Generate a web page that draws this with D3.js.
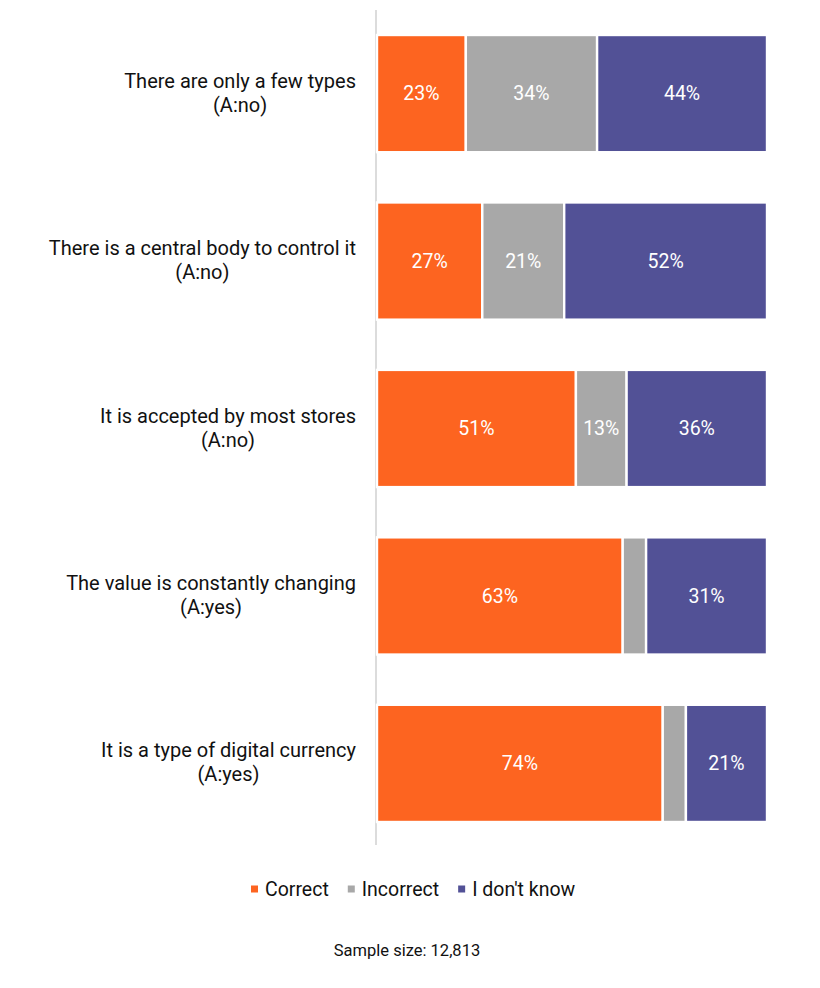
<!DOCTYPE html>
<html><head><meta charset="utf-8">
<script src="https://cdn.jsdelivr.net/npm/d3@7/dist/d3.min.js"></script>
<style>body{margin:0;background:#fff;}svg{display:block;font-family:Roboto,sans-serif;}</style>
</head><body><div id="chart"></div>
<script>
const categories = [
  ["There are only a few types", "(A:no)"],
  ["There is a central body to control it", "(A:no)"],
  ["It is accepted by most stores", "(A:no)"],
  ["The value is constantly changing", "(A:yes)"],
  ["It is a type of digital currency", "(A:yes)"]
];
const seriesNames = ["Correct", "Incorrect", "I don't know"];
const correct   = [23, 27, 51, 63, 74];
const incorrect = [34, 21, 13, 6, 6];
const dontKnow  = [44, 52, 36, 31, 21];
const showIncorrectLabel = [true, true, true, false, false];
const colors = ["#FD6420", "#A8A8A8", "#525196"];
const footnote = "Sample size: 12,813";

const W = 820, H = 988;
const svg = d3.select("#chart").append("svg").attr("width", W).attr("height", H);

const x = d3.scaleLinear().domain([0, 1]).range([377, 767]);
const y = d3.scaleBand().domain(d3.range(categories.length)).range([35, 822]).paddingInner(0.3).paddingOuter(0);

const rows = categories.map((c, i) => {
  const vals = [correct[i], incorrect[i], dontKnow[i]];
  const tot = d3.sum(vals);
  let acc = 0;
  return vals.map((v, k) => {
    const seg = {i, k, v, x0: acc / tot, x1: (acc + v) / tot};
    acc += v;
    return seg;
  });
});

// axis line
svg.append("line").attr("x1", 376).attr("x2", 376).attr("y1", 10).attr("y2", 845)
  .attr("stroke", "#dcdcdc").attr("stroke-width", 2);

const g = svg.append("g");
rows.forEach(row => {
  row.forEach(s => {
    g.append("rect")
      .attr("x", x(s.x0)).attr("width", x(s.x1) - x(s.x0))
      .attr("y", y(s.i)).attr("height", y.bandwidth())
      .attr("fill", colors[s.k]).attr("stroke", "#fff").attr("stroke-width", 2.4);
    const show = s.k !== 1 || showIncorrectLabel[s.i];
    if (show) {
      g.append("text")
        .attr("x", (x(s.x0) + x(s.x1)) / 2)
        .attr("y", y(s.i) + y.bandwidth() / 2)
        .attr("dy", "0.35em").attr("text-anchor", "middle")
        .attr("fill", "#fff").attr("font-size", 19.5)
        .text(s.v + "%");
    }
  });
});

// category labels: block right-aligned, lines centered
const labelRight = 356;
categories.forEach((lines, i) => {
  const cy = y(i) + y.bandwidth() / 2;
  const t = svg.append("g");
  const texts = lines.map((ln, j) => t.append("text")
    .attr("y", cy - 13 + j * 24)
    .attr("dy", "0.35em").attr("text-anchor", "middle")
    .attr("font-size", 20).attr("fill", "#111").text(ln));
  const maxW = d3.max(texts, tx => tx.node().getComputedTextLength());
  texts.forEach(tx => tx.attr("x", labelRight - maxW / 2));
});

// legend
const leg = svg.append("g");
let lx = 0;
seriesNames.forEach((n, k) => {
  const gi = leg.append("g").attr("transform", `translate(${lx},0)`);
  gi.append("rect").attr("x", 0).attr("y", -3.5).attr("width", 7).attr("height", 7).attr("fill", colors[k]);
  const tx = gi.append("text").attr("x", 14).attr("dy", "0.35em").attr("font-size", 19.5).attr("fill", "#111").text(n);
  const w = 14 + tx.node().getComputedTextLength();
  lx += w + 19;
});
leg.attr("transform", `translate(251,889)`);

svg.append("text").attr("x", 407).attr("y", 950).attr("dy", "0.35em").attr("text-anchor", "middle")
  .attr("font-size", 16.5).attr("fill", "#111").text(footnote);
</script></body></html>
